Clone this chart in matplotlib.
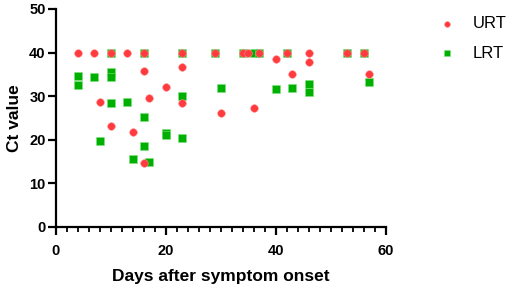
import matplotlib
matplotlib.use("Agg")
import matplotlib.pyplot as plt
from matplotlib.ticker import MultipleLocator

plt.rcParams['font.family'] = ['Liberation Sans', 'DejaVu Sans']

urt_days = [4, 7, 10, 13, 16, 23, 29, 34, 35, 37, 42, 46, 53, 56,
            16, 23, 20, 8, 17, 23, 10, 14, 16,
            40, 46, 43, 57, 30, 36]
urt_ct = [40, 40, 40, 40, 40, 40, 40, 40, 40, 40, 40, 40, 40, 40,
          35.8, 36.8, 32.2, 28.6, 29.5, 28.4, 23.2, 21.8, 14.6,
          38.5, 37.9, 35.0, 35.1, 26.1, 27.4]

lrt_days = [10, 16, 23, 29, 34, 36, 37, 42, 53, 56,
            4, 4, 7, 10, 10, 10, 13, 23, 16,
            8, 20, 20, 23, 16, 14, 17,
            57, 30, 40, 43, 46, 46]
lrt_ct = [40, 40, 40, 40, 40, 40, 40, 40, 40, 40,
          34.7, 32.6, 34.3, 35.5, 34.5, 28.4, 28.6, 30.0, 25.2,
          19.8, 21.6, 21.0, 20.3, 18.6, 15.5, 15.0,
          33.3, 31.8, 31.6, 31.9, 32.8, 31.0]

W, H = 510, 290
fig = plt.figure(figsize=(W / 100, H / 100), dpi=100)
ax = fig.add_axes([56/W, 63/H, (386-56)/W, (227-9)/H])

green = '#00B000'
red = '#FF3B3F'
ax.scatter(lrt_days, lrt_ct, marker='s', s=30, color=green, edgecolors='#7FE07F',
           linewidths=0.4, zorder=3, label='LRT', clip_on=False)
ax.scatter(urt_days, urt_ct, marker='o', s=30, color=red, edgecolors='#FF8A8A',
           linewidths=0.4, zorder=4, label='URT', clip_on=False)

ax.set_xlim(0, 60)
ax.set_ylim(0, 50)
ax.xaxis.set_major_locator(MultipleLocator(20))
ax.xaxis.set_minor_locator(MultipleLocator(2))
ax.yaxis.set_major_locator(MultipleLocator(10))

for s in ['top', 'right']:
    ax.spines[s].set_visible(False)
for s in ['left', 'bottom']:
    ax.spines[s].set_linewidth(1.6)

ax.tick_params(axis='both', which='major', length=6, width=1.6, labelsize=10.5)
ax.tick_params(axis='x', which='major', pad=6)
ax.tick_params(axis='y', which='major', pad=1.5)
ax.tick_params(axis='x', which='minor', length=3.5, width=1.3)
for lab in ax.get_xticklabels() + ax.get_yticklabels():
    lab.set_fontweight('bold')

ax.set_xlabel('Days after symptom onset', fontsize=12.5, fontweight='bold', labelpad=8)
ax.set_ylabel('Ct value', fontsize=12.5, fontweight='bold', labelpad=5)

handles, labels = ax.get_legend_handles_labels()
order = [1, 0]
ax.legend([handles[i] for i in order], [labels[i] for i in order],
          loc='upper left', bbox_to_anchor=(430.6 / W, 1 - 16.5 / H),
          bbox_transform=fig.transFigure, frameon=False,
          borderaxespad=0, borderpad=0,
          fontsize=12, handletextpad=0.53, labelspacing=0.85, markerscale=0.75)

fig.savefig('out.png', dpi=100)
